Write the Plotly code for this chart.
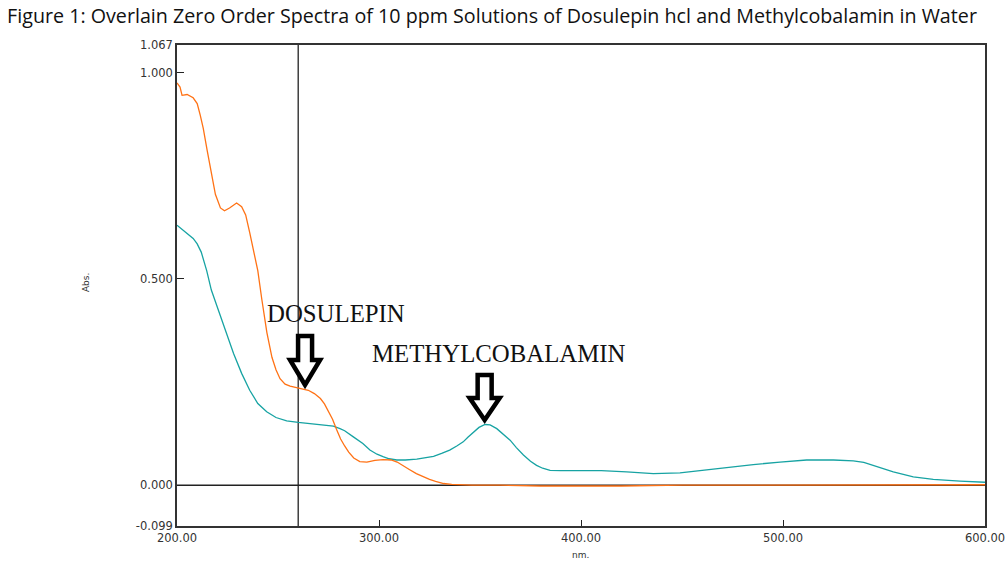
import plotly.graph_objects as go

# ---- data ----
dosulepin_nm = [200, 201.5, 202.5, 205, 208, 210, 211.5, 213, 215, 217, 219, 221.5, 223.5, 226, 229.5, 232, 234, 236, 238, 240,
                242, 244.5, 247, 249, 251, 253.5, 256, 259, 262.5, 265, 268, 271, 273, 275, 277, 279, 281, 283, 285, 287.5,
                290.5, 294, 298, 302, 306, 309, 312, 315, 318.5, 322, 325, 328, 332, 336, 340, 346, 360, 380, 400, 420,
                450, 500, 550, 600]
dosulepin_abs = [0.975, 0.965, 0.945, 0.947, 0.939, 0.925, 0.897, 0.865, 0.81, 0.76, 0.705, 0.672, 0.665, 0.672, 0.684, 0.675,
                 0.655, 0.612, 0.565, 0.52, 0.45, 0.37, 0.31, 0.28, 0.258, 0.245, 0.24, 0.237, 0.234, 0.23, 0.222, 0.21,
                 0.197, 0.18, 0.16, 0.135, 0.112, 0.095, 0.08, 0.066, 0.057, 0.056, 0.06, 0.062, 0.061, 0.056, 0.048,
                 0.038, 0.028, 0.02, 0.014, 0.009, 0.004, 0.002, 0.001, 0.0, 0.0, -0.002, -0.002, -0.002, 0.0, 0.0, 0.0,
                 0.001]

methyl_nm = [200, 202, 204, 206, 208, 210, 212, 214.7, 217, 220.5, 224, 228, 232, 236, 240, 244.4, 249, 254.3, 260, 267.5,
             272, 277.4, 280.7, 283, 287.3, 292, 295.5, 299, 302, 305, 308.8, 313, 318.7, 323, 327, 331, 335, 338.5,
             341.7, 344, 346.7, 349.5, 352.5, 355, 358.3, 361.5, 364.9, 368, 371.5, 375, 378, 381, 384.7, 390, 400,
             410, 422.6, 435.8, 449, 459, 472, 485.3, 498.5, 511.7, 525, 534.8, 540, 544.7, 549.5, 554.6, 564.5,
             574.4, 587.6, 600]
methyl_abs = [0.63, 0.622, 0.612, 0.605, 0.598, 0.585, 0.565, 0.52, 0.473, 0.424, 0.376, 0.319, 0.271, 0.23, 0.198, 0.178,
              0.164, 0.156, 0.152, 0.148, 0.146, 0.143, 0.137, 0.132, 0.117, 0.101, 0.085, 0.075, 0.069, 0.064, 0.061,
              0.061, 0.063, 0.066, 0.07, 0.077, 0.085, 0.095, 0.105, 0.116, 0.129, 0.14, 0.147, 0.146, 0.137, 0.124,
              0.109, 0.091, 0.073, 0.058, 0.048, 0.041, 0.036, 0.035, 0.035, 0.035, 0.032, 0.028, 0.03, 0.036, 0.043,
              0.05, 0.056, 0.061, 0.061, 0.059, 0.055, 0.048, 0.04, 0.032, 0.02, 0.014, 0.01, 0.007]

x_ticks = [200, 300, 400, 500, 600]
x_tick_labels = ["200.00", "300.00", "400.00", "500.00", "600.00"]
y_ticks = [-0.099, 0.0, 0.5, 1.0, 1.067]
y_tick_labels = ["-0.099", "0.000", "0.500", "1.000", "1.067"]

cursor_nm = 260
labels = ["DOSULEPIN", "METHYLCOBALAMIN"]
label_nm = [278.7, 359.4]
label_abs = [0.417, 0.320]
arrow_nm = [263.4, 352.3]
arrow_abs = [0.238, 0.153]

# ---- figure ----
fig = go.Figure()
fig.add_trace(go.Scatter(x=methyl_nm, y=methyl_abs, mode="lines",
                         line=dict(color="#17a3a3", width=1.3), name="Methylcobalamin"))
fig.add_trace(go.Scatter(x=dosulepin_nm, y=dosulepin_abs, mode="lines",
                         line=dict(color="#ff7215", width=1.3), name="Dosulepin"))

# zero line and cursor line
fig.add_shape(type="line", xref="paper", x0=0, x1=1, yref="y", y0=0, y1=0,
              line=dict(color="#222", width=1.5), layer="below")
fig.add_shape(type="line", xref="x", x0=cursor_nm, x1=cursor_nm, yref="paper", y0=0, y1=1,
              line=dict(color="#222", width=1.3), layer="below")

# hollow block arrows (pixel-sized, anchored at tip, pointing down)
arrow_paths = ["M0,2 L-15,27 L-7,27 L-7,51 L7,51 L7,27 L15,27 Z",
               "M0,2 L-15,24 L-7,24 L-7,47 L7,47 L7,24 L15,24 Z"]
for ax_, ay_, p in zip(arrow_nm, arrow_abs, arrow_paths):
    fig.add_shape(type="path", xref="x", yref="y", xsizemode="pixel", ysizemode="pixel",
                  xanchor=ax_, yanchor=ay_, path=p,
                  line=dict(color="black", width=4.5), fillcolor="white")

for t, lx, ly in zip(labels, label_nm, label_abs):
    fig.add_annotation(x=lx, y=ly, xref="x", yref="y", text=t, showarrow=False,
                       font=dict(family="Liberation Serif, Times New Roman, serif", size=24.8, color="#111"))

fig.add_annotation(x=0.499, y=-0.06, xref="paper", yref="paper", text="nm.", showarrow=False,
                   xanchor="center", yanchor="middle",
                   font=dict(family="DejaVu Sans", size=9, color="#333"))
fig.add_annotation(x=-(177 - 86) / 808, y=0.505, xref="paper", yref="paper", text="Abs.", showarrow=False,
                   xanchor="center", yanchor="middle", textangle=-90,
                   font=dict(family="DejaVu Sans", size=9, color="#333"))

fig.update_layout(
    width=1005, height=565,
    margin=dict(l=177, r=20, t=45, b=39, autoexpand=False),
    paper_bgcolor="white", plot_bgcolor="white",
    showlegend=False,
    title=dict(text="Figure 1: Overlain Zero Order Spectra of 10 ppm Solutions of Dosulepin hcl and Methylcobalamin in Water",
               x=492 / 1005, xanchor="center", y=1 - 16 / 565, yanchor="middle", yref="container",
               font=dict(family="Open Sans, Liberation Sans, sans-serif", size=19.7, color="#111")),
    xaxis=dict(range=[200, 600], tickvals=x_ticks, ticktext=x_tick_labels, ticks="inside", ticklen=6,
               tickcolor="#222", showgrid=False, zeroline=False, showline=True, linecolor="#333", linewidth=1.5,
               mirror=True, ticklabeloverflow="allow", automargin=False,
               tickfont=dict(family="DejaVu Sans", size=11.5, color="#333")),
    yaxis=dict(range=[-0.099, 1.067], tickvals=y_ticks, ticktext=y_tick_labels, ticks="inside", ticklen=7,
               tickcolor="#222", showgrid=False, zeroline=False, showline=True, linecolor="#333", linewidth=1.5,
               mirror=True, automargin=False, tickfont=dict(family="DejaVu Sans", size=11.5, color="#333")),
)

fig.write_html("out.html")
